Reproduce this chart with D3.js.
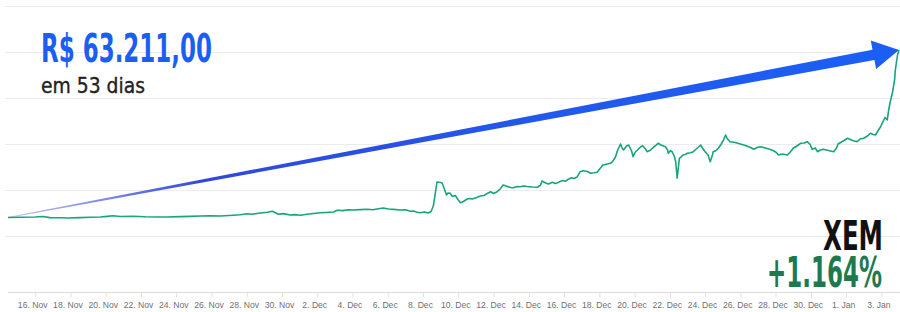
<!DOCTYPE html>
<html>
<head>
<meta charset="utf-8">
<script src="https://cdn.jsdelivr.net/npm/d3@7"></script>
<style>
  html, body { margin: 0; padding: 0; background: #ffffff; }
  svg { display: block; }
</style>
</head>
<body>
<svg id="chart" width="900" height="312"></svg>
<script>
// ---- DATA ----
const times = [
  "2017-11-14 11:00","2017-11-15 04:00","2017-11-16 00:00","2017-11-16 11:00","2017-11-16 20:00",
  "2017-11-17 10:00","2017-11-17 20:00","2017-11-18 13:00","2017-11-19 03:00","2017-11-19 17:00",
  "2017-11-20 02:00","2017-11-20 10:00","2017-11-20 20:00","2017-11-21 13:00","2017-11-22 06:00",
  "2017-11-22 22:00","2017-11-23 12:00","2017-11-24 05:00","2017-11-24 19:00","2017-11-25 09:00",
  "2017-11-25 22:00","2017-11-26 12:00","2017-11-27 06:00","2017-11-27 15:00","2017-11-28 01:00",
  "2017-11-28 07:00","2017-11-28 16:00","2017-11-28 22:00","2017-11-29 04:00","2017-11-29 11:00",
  "2017-11-29 15:00","2017-11-29 19:00","2017-11-30 02:00","2017-11-30 11:00","2017-11-30 18:00",
  "2017-12-01 01:00","2017-12-01 10:00","2017-12-01 19:00","2017-12-02 04:00","2017-12-02 14:00",
  "2017-12-02 22:00","2017-12-03 03:00","2017-12-03 11:00","2017-12-03 18:00","2017-12-04 01:00",
  "2017-12-04 11:00","2017-12-04 20:00","2017-12-05 04:00","2017-12-05 11:00","2017-12-05 18:00",
  "2017-12-06 01:00","2017-12-06 08:00","2017-12-06 17:00","2017-12-07 00:00","2017-12-07 07:00",
  "2017-12-07 11:00","2017-12-07 16:00","2017-12-07 20:00","2017-12-08 02:00","2017-12-08 07:00",
  "2017-12-08 11:00","2017-12-08 14:00","2017-12-08 17:00","2017-12-08 19:00","2017-12-09 00:00",
  "2017-12-09 02:00","2017-12-09 05:00","2017-12-09 08:00","2017-12-09 10:00","2017-12-09 13:00",
  "2017-12-09 16:00","2017-12-09 20:00","2017-12-09 23:00","2017-12-10 03:00","2017-12-10 07:00",
  "2017-12-10 12:00","2017-12-10 16:00","2017-12-10 19:00","2017-12-11 01:00","2017-12-11 06:00",
  "2017-12-11 11:00","2017-12-11 16:00","2017-12-11 20:00","2017-12-12 00:00","2017-12-12 05:00",
  "2017-12-12 09:00","2017-12-12 13:00","2017-12-12 19:00","2017-12-12 23:00","2017-12-13 03:00",
  "2017-12-13 08:00","2017-12-13 12:00","2017-12-13 17:00","2017-12-13 22:00","2017-12-14 05:00",
  "2017-12-14 12:00","2017-12-14 16:00","2017-12-14 18:00","2017-12-14 23:00","2017-12-15 03:00",
  "2017-12-15 08:00","2017-12-15 12:00","2017-12-15 15:00","2017-12-15 22:00","2017-12-16 02:00",
  "2017-12-16 04:00","2017-12-16 10:00","2017-12-16 14:00","2017-12-16 18:00","2017-12-16 22:00",
  "2017-12-17 02:00","2017-12-17 08:00","2017-12-17 12:00","2017-12-17 17:00","2017-12-17 21:00",
  "2017-12-18 01:00","2017-12-18 05:00","2017-12-18 11:00","2017-12-18 15:00","2017-12-18 18:00",
  "2017-12-18 22:00","2017-12-19 01:00","2017-12-19 05:00","2017-12-19 07:00","2017-12-19 09:00",
  "2017-12-19 13:00","2017-12-19 16:00","2017-12-19 20:00","2017-12-19 22:00","2017-12-20 01:00",
  "2017-12-20 04:00","2017-12-20 08:00","2017-12-20 11:00","2017-12-20 15:00","2017-12-20 17:00",
  "2017-12-20 22:00","2017-12-21 00:00","2017-12-21 04:00","2017-12-21 08:00","2017-12-21 12:00",
  "2017-12-21 18:00","2017-12-21 21:00","2017-12-21 22:00","2017-12-22 01:00","2017-12-22 03:00",
  "2017-12-22 06:00","2017-12-22 08:00","2017-12-22 09:00","2017-12-22 10:00","2017-12-22 12:00",
  "2017-12-22 13:00","2017-12-22 16:00","2017-12-22 18:00","2017-12-22 21:00","2017-12-23 00:00",
  "2017-12-23 04:00","2017-12-23 08:00","2017-12-23 12:00","2017-12-23 18:00","2017-12-23 20:00",
  "2017-12-24 00:00","2017-12-24 04:00","2017-12-24 07:00","2017-12-24 10:00","2017-12-24 11:00",
  "2017-12-24 15:00","2017-12-24 18:00","2017-12-24 22:00","2017-12-25 01:00","2017-12-25 04:00",
  "2017-12-25 06:00","2017-12-25 10:00","2017-12-25 17:00","2017-12-26 00:00","2017-12-26 07:00",
  "2017-12-26 14:00","2017-12-26 18:00","2017-12-26 23:00","2017-12-27 03:00","2017-12-27 10:00",
  "2017-12-27 17:00","2017-12-27 21:00","2017-12-28 01:00","2017-12-28 04:00","2017-12-28 09:00",
  "2017-12-28 16:00","2017-12-28 20:00","2017-12-29 00:00","2017-12-29 06:00","2017-12-29 10:00",
  "2017-12-29 15:00","2017-12-29 19:00","2017-12-29 23:00","2017-12-30 02:00","2017-12-30 06:00",
  "2017-12-30 09:00","2017-12-30 13:00","2017-12-30 17:00","2017-12-31 00:00","2017-12-31 07:00",
  "2017-12-31 11:00","2017-12-31 13:00","2017-12-31 20:00","2018-01-01 02:00","2018-01-01 09:00",
  "2018-01-01 15:00","2018-01-01 19:00","2018-01-02 00:00","2018-01-02 05:00","2018-01-02 09:00",
  "2018-01-02 13:00","2018-01-02 16:00","2018-01-02 20:00","2018-01-02 23:00","2018-01-03 01:00",
  "2018-01-03 05:00","2018-01-03 08:00","2018-01-03 10:00","2018-01-03 12:00","2018-01-03 15:00",
  "2018-01-03 18:00","2018-01-03 19:00","2018-01-03 22:00","2018-01-04 00:00"
];
const prices = [
  0.603,0.610,0.620,0.636,0.600,
  0.593,0.587,0.600,0.610,0.620,
  0.639,0.659,0.636,0.642,0.626,
  0.620,0.620,0.633,0.639,0.652,
  0.659,0.652,0.675,0.691,0.727,
  0.708,0.743,0.757,0.773,0.805,
  0.757,0.708,0.730,0.685,0.698,
  0.675,0.711,0.734,0.760,0.770,
  0.783,0.838,0.828,0.854,0.848,
  0.861,0.871,0.854,0.887,0.913,
  0.880,0.867,0.848,0.854,0.805,
  0.815,0.773,0.760,0.783,0.750,
  0.799,0.978,1.435,1.761,1.745,
  1.728,1.533,1.337,1.402,1.392,
  1.288,1.321,1.207,1.086,1.125,
  1.207,1.223,1.207,1.255,1.304,
  1.321,1.396,1.445,1.386,1.445,
  1.533,1.663,1.614,1.582,1.575,
  1.614,1.604,1.630,1.614,1.598,
  1.588,1.663,1.793,1.728,1.696,
  1.751,1.712,1.738,1.810,1.784,
  1.826,1.898,1.875,1.934,2.097,
  2.129,2.103,2.045,2.061,2.077,
  2.201,2.315,2.348,2.371,2.423,
  2.576,2.804,3.000,2.870,2.804,
  2.935,2.967,2.772,2.586,2.739,
  2.804,2.902,2.945,2.837,2.749,
  2.804,2.860,2.935,3.023,2.967,
  2.912,2.804,2.697,2.788,2.749,
  2.609,2.423,2.152,1.882,2.315,
  2.534,2.592,2.641,2.658,2.697,
  2.713,2.749,2.837,2.967,2.886,
  2.749,2.641,2.423,2.641,2.749,
  2.788,2.860,3.000,3.130,3.293,
  3.179,3.075,3.049,3.000,2.951,
  2.886,2.827,2.886,2.912,2.870,
  2.821,2.782,2.723,2.641,2.674,
  2.641,2.739,2.860,2.951,3.023,
  3.033,3.075,2.984,2.827,2.870,
  2.749,2.804,2.827,2.788,2.749,
  2.870,3.000,3.098,3.186,3.114,
  3.075,3.163,3.186,3.261,3.349,
  3.310,3.293,3.457,3.564,3.675,
  3.864,3.783,4.109,4.370,4.663,
  5.087,5.413,5.902,6.065
];
const tickDates = [
  "2017-11-16","2017-11-18","2017-11-20","2017-11-22","2017-11-24","2017-11-26","2017-11-28","2017-11-30",
  "2017-12-02","2017-12-04","2017-12-06","2017-12-08","2017-12-10","2017-12-12","2017-12-14","2017-12-16",
  "2017-12-18","2017-12-20","2017-12-22","2017-12-24","2017-12-26","2017-12-28","2017-12-30",
  "2018-01-01","2018-01-03"
];
const gridValues = [0, 1.5, 3, 4.5, 6, 7.5];
const titleText = "R$ 63.211,00";
const subtitleText = "em 53 dias";
const coinText = "XEM";
const changeText = "+1.164%";

// ---- CHART ----
const parseTime = d3.timeParse("%Y-%m-%d %H:%M");
const parseDay = d3.timeParse("%Y-%m-%d");
const data = times.map((t, i) => ({ t: parseTime(t), v: prices[i] }));

const svg = d3.select("#chart");
const left = 8, right = 899, axisY = 292;

const x = d3.scaleTime().domain(d3.extent(data, d => d.t)).range([left, right]);
const y = d3.scaleLinear().domain([0, 7.5]).range([236, 6]);

// gridlines
svg.append("g").selectAll("line").data(gridValues).join("line")
  .attr("x1", left - 3).attr("x2", 900)
  .attr("y1", d => Math.round(y(d)) + 0.5).attr("y2", d => Math.round(y(d)) + 0.5)
  .attr("stroke", "#ececec").attr("stroke-width", 1);

// x axis
const xAxis = d3.axisBottom(x)
  .tickValues(tickDates.map(parseDay))
  .tickFormat(d3.timeFormat("%-d. %b"))
  .tickSizeInner(5).tickSizeOuter(0).tickPadding(4);
const gx = svg.append("g").attr("transform", `translate(0,${axisY + 0.5})`).call(xAxis);
gx.select(".domain").attr("stroke", "#dadada").attr("d", `M${left},0H900`);
gx.selectAll(".tick line").attr("stroke", "#e2e2e2");
gx.selectAll(".tick text")
  .attr("fill", "#707070")
  .attr("dx", -3)
  .style("font-family", "'Liberation Sans Narrow', 'Arial Narrow', 'Liberation Sans', sans-serif")
  .style("font-size", "8.6px");

// arrow from first to last point
const first = data[0], last = data[data.length - 1];
const p0 = [x(first.t), y(first.v)], p1 = [x(last.t), y(last.v)];
const dx = p1[0] - p0[0], dy = p1[1] - p0[1];
const len = Math.hypot(dx, dy);
const ux = dx / len, uy = dy / len, nx = -uy, ny = ux;
const headLen = 26, headHalf = 14.5, shaftStart = 0.4, shaftEnd = 5.2;
const bx = p1[0] - ux * headLen, by = p1[1] - uy * headLen;
const pts = [
  [p0[0] + nx * shaftStart, p0[1] + ny * shaftStart],
  [bx + nx * shaftEnd, by + ny * shaftEnd],
  [bx + nx * headHalf, by + ny * headHalf],
  [p1[0], p1[1]],
  [bx - nx * headHalf, by - ny * headHalf],
  [bx - nx * shaftEnd, by - ny * shaftEnd],
  [p0[0] - nx * shaftStart, p0[1] - ny * shaftStart]
];
const defs = svg.append("defs");
const grad = defs.append("linearGradient").attr("id", "arrowGrad")
  .attr("gradientUnits", "userSpaceOnUse")
  .attr("x1", p0[0]).attr("y1", p0[1]).attr("x2", p1[0]).attr("y2", p1[1]);
grad.append("stop").attr("offset", 0).attr("stop-color", "#c9c6f2");
grad.append("stop").attr("offset", 0.22).attr("stop-color", "#3048d8");
grad.append("stop").attr("offset", 0.55).attr("stop-color", "#2357ea");
grad.append("stop").attr("offset", 1).attr("stop-color", "#1a5ff5");
svg.append("path")
  .attr("d", d3.line()(pts) + "Z")
  .attr("fill", "url(#arrowGrad)");

// price line
svg.append("path").datum(data)
  .attr("d", d3.line().x(d => x(d.t)).y(d => y(d.v)))
  .attr("fill", "none")
  .attr("stroke", "#17a57b")
  .attr("stroke-width", 1.6)
  .attr("stroke-linejoin", "round");

// texts
const condensed = "'Liberation Sans Narrow', 'Arial Narrow', 'DejaVu Sans Condensed', sans-serif";
svg.append("text").text(titleText)
  .attr("x", 41).attr("y", 62)
  .attr("textLength", 171).attr("lengthAdjust", "spacingAndGlyphs")
  .style("font-family", condensed).style("font-weight", "bold").style("font-size", "39px")
  .attr("fill", "#1b5ff2");
svg.append("text").text(subtitleText)
  .attr("x", 41).attr("y", 93)
  .attr("textLength", 104).attr("lengthAdjust", "spacingAndGlyphs")
  .style("font-family", condensed).style("font-weight", "normal").style("font-size", "22px")
  .attr("fill", "#222222").attr("stroke", "#222222").attr("stroke-width", 0.35);
svg.append("text").text(coinText)
  .attr("x", 883).attr("y", 250).attr("text-anchor", "end")
  .attr("textLength", 60).attr("lengthAdjust", "spacingAndGlyphs")
  .style("font-family", condensed).style("font-weight", "bold").style("font-size", "41px")
  .attr("fill", "#111111");
svg.append("text").text(changeText)
  .attr("x", 882).attr("y", 286.5).attr("text-anchor", "end")
  .attr("textLength", 115).attr("lengthAdjust", "spacingAndGlyphs")
  .style("font-family", condensed).style("font-weight", "bold").style("font-size", "43px")
  .attr("fill", "#1e7a4e");
</script>
</body>
</html>
